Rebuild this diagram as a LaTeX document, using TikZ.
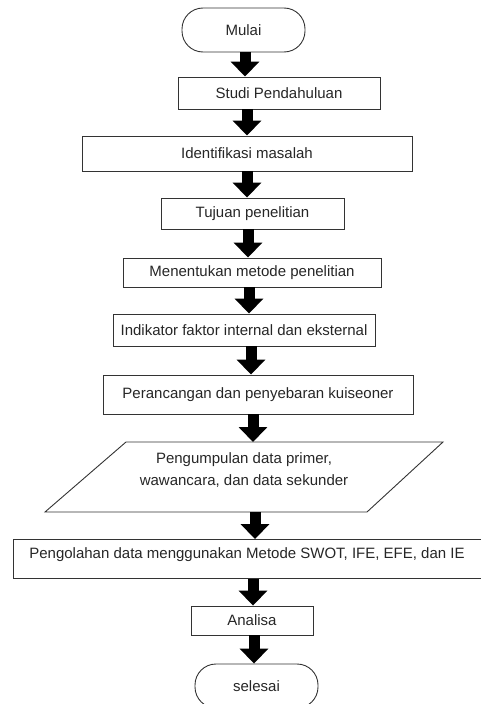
\documentclass[tikz,border=0pt]{standalone}
\usepackage{fontspec}
\setmainfont{Liberation Sans}
\usetikzlibrary{arrows.meta}

\tikzset{
    kotak/.style={draw=black!80, line width=0.9pt, inner sep=0pt, text=black!85},
    terminal/.style={kotak, rounded corners=21pt, minimum width=123pt, minimum height=44pt},
    panah/.style={line width=11pt, -{Triangle[width=28pt,length=15pt]}}
}

\begin{document}
\begin{tikzpicture}[x=1pt, y=-1pt, font=\fontsize{15}{19}\selectfont]
        \useasboundingbox (0,0) rectangle (481,704);
        \node [terminal] (mulai) at (243.5, 30) {Mulai};
        \node [kotak, minimum width=202pt, minimum height=32pt] (studi) at (279, 93) {Studi Pendahuluan};
        \node [kotak, minimum width=330pt, minimum height=35pt] (identifikasi) at (247, 153.5) {Identifikasi masalah};
        \node [kotak, minimum width=183pt, minimum height=31pt] (tujuan) at (252.5, 213.5) {Tujuan penelitian};
        \node [kotak, minimum width=258pt, minimum height=29pt] (metode) at (252, 272.5) {Menentukan metode penelitian};
        \node [kotak, minimum width=262pt, minimum height=32pt] (indikator) at (244, 330) {Indikator faktor internal dan eksternal};
        \node [kotak, minimum width=310pt, minimum height=39pt] (kuisioner) at (258, 394.5) {Perancangan dan penyebaran kuiseoner};
        % data masukan
        \draw [draw=black!80, line width=0.9pt] (45,512) -- (126,442) -- (443,442) -- (367,512) -- cycle;
        \coordinate (dataatas) at (253, 442);
        \coordinate (databawah) at (255, 512);
        \node [align=center, text=black!85, font=\fontsize{15}{22}\selectfont] (data) at (244, 470) {Pengumpulan data primer,\\wawancara, dan data sekunder};
        \node [kotak, minimum width=468pt, minimum height=39pt, text height=11pt, text depth=13pt] (olah) at (247, 559) {Pengolahan data menggunakan Metode SWOT, IFE, EFE, dan IE};
        \node [kotak, minimum width=122pt, minimum height=29pt] (analisa) at (252, 620.5) {Analisa};
        \node [terminal] (selesai) at (256.5, 686) {selesai};

        \draw [panah] ([xshift=1.5]mulai.south) -- ([xshift=-34]studi.north);
        \draw [panah] ([xshift=-32]studi.south) -- (identifikasi.north);
        \draw [panah] (identifikasi.south) -- ([xshift=-5.5]tujuan.north);
        \draw [panah] ([xshift=-4.5]tujuan.south) -- ([xshift=-4]metode.north);
        \draw [panah] ([xshift=-3]metode.south) -- ([xshift=5]indikator.north);
        \draw [panah] ([xshift=7]indikator.south) -- ([xshift=-7]kuisioner.north);
        \draw [panah] ([xshift=-5]kuisioner.south) -- (dataatas);
        \draw [panah] (databawah) -- ([xshift=8]olah.north);
        \draw [panah] ([xshift=6]olah.south) -- ([xshift=1]analisa.north);
        \draw [panah] ([xshift=2]analisa.south) -- ([xshift=-2.5]selesai.north);
    \end{tikzpicture}
\end{document}
